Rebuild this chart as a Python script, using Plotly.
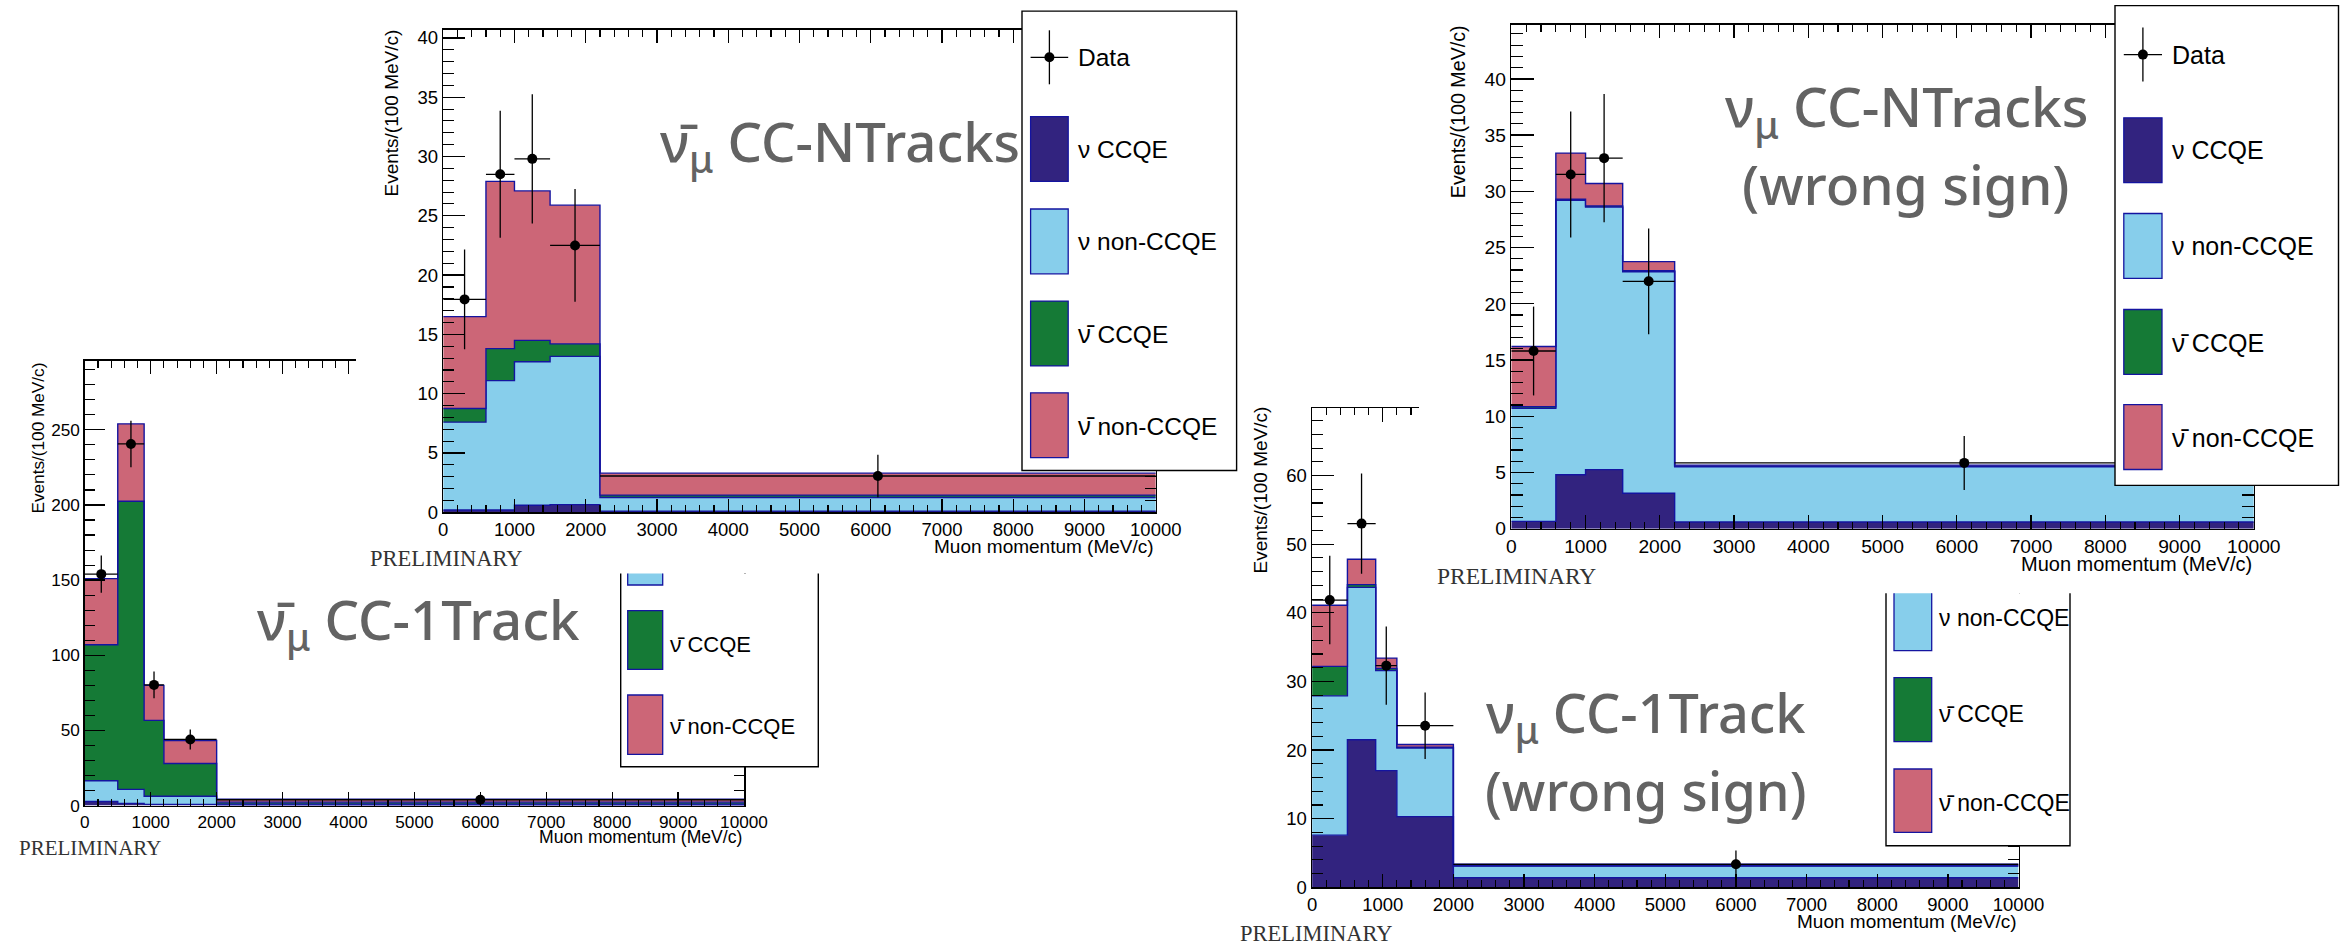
import plotly.graph_objects as go

W, H = 2342, 943

# ---------------- data ----------------
edges_1track = [0, 500, 900, 1200, 2000, 10000]
edges_ntracks = [0, 600, 1000, 1500, 2200, 10000]
x_tick_vals = [0, 1000, 2000, 3000, 4000, 5000, 6000, 7000, 8000, 9000, 10000]
x_tick_text = ["0", "1000", "2000", "3000", "4000", "5000", "6000", "7000", "8000", "9000", "10000"]

# anti-nu_mu CC-1Track
p1_nu_ccqe = [2.7, 1.5, 0.8, 0.8, 0.4]
p1_nu_non = [13.8, 9.3, 5.4, 5.4, 0.6]
p1_nubar_ccqe = [90.5, 191.7, 50.5, 21.8, 1.3]
p1_nubar_non = [44.0, 51.5, 23.3, 15.3, 2.0]
p1_data = [154.0, 240.6, 80.3, 44.0, 3.9]
p1_err = [12.4, 15.5, 8.9, 6.6, 2.0]

# anti-nu_mu CC-NTracks
p2_nu_ccqe = [0.2, 0.2, 0.6, 0.65, 0.1]
p2_nu_non = [7.4, 10.9, 12.1, 12.5, 1.15]
p2_nubar_ccqe = [1.15, 2.7, 1.8, 1.05, 0.2]
p2_nubar_non = [7.75, 14.1, 12.6, 11.7, 1.85]
p2_data = [17.95, 28.5, 29.8, 22.5, 3.06]
p2_err = [4.2, 5.35, 5.45, 4.75, 1.8]

# nu_mu CC-NTracks (wrong sign)
p3_nu_ccqe = [0.65, 4.8, 5.25, 3.15, 0.6]
p3_nu_non = [10.05, 24.4, 23.35, 19.7, 4.9]
p3_nubar_ccqe = [0.15, 0.1, 0.1, 0.1, 0.05]
p3_nubar_non = [5.35, 4.1, 2.0, 0.8, 0.1]
p3_data = [15.8, 31.5, 32.95, 22.0, 5.85]
p3_err = [3.95, 5.6, 5.7, 4.7, 2.4]

# nu_mu CC-1Track (wrong sign)
p4_nu_ccqe = [7.6, 21.5, 17.0, 10.3, 1.4]
p4_nu_non = [20.3, 22.2, 14.6, 10.0, 1.7]
p4_nubar_ccqe = [4.3, 0.4, 0.3, 0.1, 0.05]
p4_nubar_non = [8.9, 3.7, 1.5, 0.4, 0.2]
p4_data = [41.85, 53.0, 32.3, 23.55, 3.35]
p4_err = [6.45, 7.3, 5.7, 4.85, 2.0]

NUBAR = '<span style="font-family:Noto Sans">\u03bd\u0304</span>'
legend_labels = ["Data", "\u03bd CCQE", "\u03bd non-CCQE", NUBAR + " CCQE", NUBAR + " non-CCQE"]
titles = {
    "p1": ["\u03bd\u0304<sub>\u03bc</sub> CC-1Track"],
    "p2": ["\u03bd\u0304<sub>\u03bc</sub> CC-NTracks"],
    "p3": ["\u03bd<sub>\u03bc</sub> CC-NTracks", "(wrong sign)"],
    "p4": ["\u03bd<sub>\u03bc</sub> CC-1Track", "(wrong sign)"],
}

# ---------------- style ----------------
COLORS = ["#32237F", "#87CEEB", "#157A36", "#CC6677"]
OUTLINE = "#1414A0"
SANS = "Liberation Sans, Arial, Helvetica, sans-serif"
SERIF = "Liberation Serif, Times New Roman, serif"
TITLEFONT = "Noto Sans, Open Sans, sans-serif"
GREY = "#636363"


def px(x):
    return x / W


def py(y):
    return 1 - y / H


fig = go.Figure()
shapes = []
annos = []


def add_panel(xa, ya, edges, comps, data, err):
    cum = [0.0] * len(data)
    for k, comp in enumerate(comps):
        cum = [c + v for c, v in zip(cum, comp)]
        fig.add_trace(go.Scatter(
            x=edges, y=cum + [cum[-1]], mode="lines",
            line=dict(shape="hv", color=OUTLINE, width=1.4),
            fill="tozeroy" if k == 0 else "tonexty", fillcolor=COLORS[k],
            xaxis=xa, yaxis=ya, showlegend=False, hoverinfo="skip"))
    centers = [(a + b) / 2 for a, b in zip(edges[:-1], edges[1:])]
    halfw = [(b - a) / 2 for a, b in zip(edges[:-1], edges[1:])]
    fig.add_trace(go.Scatter(
        x=centers, y=data, mode="markers",
        marker=dict(color="black", size=10),
        error_x=dict(type="data", array=halfw, width=0, thickness=1.3, color="black"),
        error_y=dict(type="data", array=err, width=0, thickness=1.3, color="black"),
        xaxis=xa, yaxis=ya, showlegend=False, hoverinfo="skip"))


def add_cover(xa, ya):
    fig.add_trace(go.Scatter(x=[None], y=[None], xaxis=xa, yaxis=ya,
                             showlegend=False, hoverinfo="skip"))


def frame_axes(box, ymax, ydtick, yminor, ylen, s):
    x0, x1, y0, y1 = box
    tf = dict(family=SANS, size=18.5 * s, color="black")
    xa = dict(domain=[px(x0), px(x1)], range=[0, 10000], automargin=False,
              tickmode="array", tickvals=x_tick_vals, ticktext=x_tick_text,
              showline=True, linecolor="black", linewidth=1.5, mirror="ticks",
              ticks="inside", ticklen=13.5, tickwidth=1.3, tickcolor="black",
              minor=dict(ticks="inside", ticklen=7, dtick=200, tick0=0, tickwidth=1.1,
                         tickcolor="black", showgrid=False),
              showgrid=False, zeroline=False, tickfont=tf, fixedrange=True)
    yax = dict(domain=[py(y1), py(y0)], range=[0, ymax], dtick=ydtick, tick0=0,
               automargin=False,
               showline=True, linecolor="black", linewidth=1.5, mirror="ticks",
               ticks="inside", ticklen=ylen, tickwidth=1.3, tickcolor="black",
               minor=dict(ticks="inside", ticklen=ylen / 2, dtick=yminor, tick0=0,
                          tickwidth=1.1, tickcolor="black", showgrid=False),
               showgrid=False, zeroline=False, tickfont=tf, fixedrange=True)
    return xa, yax


def cover_axes(box):
    x0, x1, y0, y1 = box
    return (dict(domain=[px(x0), px(x1)], visible=False, range=[0, 1], fixedrange=True, automargin=False),
            dict(domain=[py(y1), py(y0)], visible=False, range=[0, 1], fixedrange=True, automargin=False))


def text(x, y, t, size, family=SANS, color="black", xanchor="left", angle=0, weight=None):
    f = dict(family=family, size=size, color=color)
    if weight:
        f["weight"] = weight
    annos.append(dict(x=px(x), y=py(y), xref="paper", yref="paper", text=t,
                      showarrow=False, xanchor=xanchor, yanchor="middle",
                      textangle=angle, font=f))


def rect(x0, y0, x1, y1, fill, line, lw=1.3):
    shapes.append(dict(type="rect", xref="paper", yref="paper",
                       x0=px(x0), x1=px(x1), y0=py(y1), y1=py(y0),
                       fillcolor=fill, line=dict(color=line, width=lw)))


def line(x0, y0, x1, y1, color="black", lw=1.3):
    shapes.append(dict(type="line", xref="paper", yref="paper",
                       x0=px(x0), x1=px(x1), y0=py(y0), y1=py(y1),
                       line=dict(color=color, width=lw)))


def open_top_path(x0, y0, x1, y1, color, lw, fill="rgba(0,0,0,0)"):
    p = "M%f,%f L%f,%f L%f,%f L%f,%f" % (px(x0), py(y0), px(x0), py(y1), px(x1), py(y1), px(x1), py(y0))
    shapes.append(dict(type="path", xref="paper", yref="paper", path=p,
                       fillcolor=fill, line=dict(color=color, width=lw)))


def full_legend(fx0, fy0, fx1, fy1, cy, boxoff, txtoff, fs):
    rect(fx0, fy0, fx1, fy1, "white", "black", 1.4)
    bx0, bx1 = fx0 + boxoff[0], fx0 + boxoff[1]
    mx = (bx0 + bx1) / 2
    line(mx, cy[0] - 27, mx, cy[0] + 27, lw=1.3)
    line(bx0, cy[0], bx1, cy[0], lw=1.3)
    shapes.append(dict(type="circle", xref="paper", yref="paper",
                       x0=px(mx - 5), x1=px(mx + 5), y0=py(cy[0] + 5), y1=py(cy[0] - 5),
                       fillcolor="black", line=dict(color="black", width=0)))
    text(fx0 + txtoff, cy[0], legend_labels[0], fs)
    for k in range(4):
        c = cy[k + 1]
        rect(bx0, c - 32.4, bx1, c + 32.4, COLORS[k], OUTLINE, 1.3)
        text(fx0 + txtoff, c, legend_labels[k + 1], fs)


# ---------------- panels (order matters for stacking) ----------------
P1 = (84.8, 744.0, 360.7, 805.6)
C2 = (356.0, 1240.0, 0.0, 573.4)
P2 = (443.2, 1155.8, 29.6, 512.3)
P4 = (1312.1, 2018.5, 408.3, 887.3)
C3 = (1419.0, 2342.0, 0.0, 593.3)
P3 = (1511.3, 2253.8, 24.9, 528.7)

add_panel("x", "y", edges_1track, [p1_nu_ccqe, p1_nu_non, p1_nubar_ccqe, p1_nubar_non], p1_data, p1_err)
add_cover("x2", "y2")
add_panel("x3", "y3", edges_ntracks, [p2_nu_ccqe, p2_nu_non, p2_nubar_ccqe, p2_nubar_non], p2_data, p2_err)
add_panel("x4", "y4", edges_1track, [p4_nu_ccqe, p4_nu_non, p4_nubar_ccqe, p4_nubar_non], p4_data, p4_err)
add_cover("x5", "y5")
add_panel("x6", "y6", edges_ntracks, [p3_nu_ccqe, p3_nu_non, p3_nubar_ccqe, p3_nubar_non], p3_data, p3_err)

s1, s2, s3, s4 = 0.93, 1.0, 1.04, 1.0
ax = {}
ax["xaxis"], ax["yaxis"] = frame_axes(P1, 296, 50, 10, 20, s1)
ax["xaxis2"], ax["yaxis2"] = cover_axes(C2)
ax["xaxis3"], ax["yaxis3"] = frame_axes(P2, 40.7, 5, 1, 21.5, s2)
ax["xaxis4"], ax["yaxis4"] = frame_axes(P4, 69.8, 10, 2, 21.5, s4)
ax["xaxis5"], ax["yaxis5"] = cover_axes(C3)
ax["xaxis6"], ax["yaxis6"] = frame_axes(P3, 44.8, 5, 1, 23, s3)
for n in ["", "2", "3", "4", "5", "6"]:
    ax["xaxis" + n]["anchor"] = "y" + n
    ax["yaxis" + n]["anchor"] = "x" + n

# ---------------- texts ----------------
ytitle = "Events/(100 MeV/c)"
xtitle = "Muon momentum (MeV/c)"
TW = 500
# panel 1
text(37.5, 438, ytitle, 17.2, angle=-90, xanchor="center")
text(P1[1], 837, xtitle, 17.6, xanchor="right")
text(17, 848, "PRELIMINARY", 21, family=SERIF, color="#333333")
text(418, 622, titles["p1"][0], 54.5, family=TITLEFONT, color=GREY, xanchor="center", weight=TW)
# panel 1 partial legend (top hidden under panel 2)
open_top_path(620.7, 573.4, 818.3, 766.7, "black", 1.4, fill="white")
shapes.append(dict(type="rect", xref="paper", yref="paper", x0=px(627.7), x1=px(662.7),
                   y0=py(585.0), y1=py(573.4), fillcolor=COLORS[1], line=dict(width=0)))
open_top_path(627.7, 573.4, 662.7, 585.0, OUTLINE, 1.3)
rect(627.7, 610.7, 662.7, 669.3, COLORS[2], OUTLINE)
rect(627.7, 695.0, 662.7, 754.3, COLORS[3], OUTLINE)
text(668.3, 643.3, legend_labels[3], 22)
text(668.3, 724.7, legend_labels[4], 22)

# panel 2
text(391, 113.5, ytitle, 19, angle=-90, xanchor="center")
text(P2[1], 546, xtitle, 19, xanchor="right")
text(368, 558, "PRELIMINARY", 22.5, family=SERIF, color="#333333")
text(840, 144, titles["p2"][0], 54.5, family=TITLEFONT, color=GREY, xanchor="center", weight=TW)
full_legend(1022.0, 11.1, 1236.6, 470.5, [57.3, 149.0, 241.4, 333.5, 425.2], (8.6, 46.2), 53.5, 24.5)

# panel 4
text(1260, 490.5, ytitle, 19, angle=-90, xanchor="center")
text(P4[1], 921, xtitle, 19, xanchor="right")
text(1238, 933, "PRELIMINARY", 22.5, family=SERIF, color="#333333")
text(1646, 714.5, titles["p4"][0], 54, family=TITLEFONT, color=GREY, xanchor="center", weight=TW)
text(1646, 790, titles["p4"][1], 54, family=TITLEFONT, color=GREY, xanchor="center", weight=TW)
open_top_path(1886.0, 593.3, 2070.0, 845.7, "black", 1.4, fill="white")
shapes.append(dict(type="rect", xref="paper", yref="paper", x0=px(1894.0), x1=px(1931.7),
                   y0=py(650.7), y1=py(593.3), fillcolor=COLORS[1], line=dict(width=0)))
open_top_path(1894.0, 593.3, 1931.7, 650.7, OUTLINE, 1.3)
rect(1894.0, 677.7, 1931.7, 741.7, COLORS[2], OUTLINE)
rect(1894.0, 769.0, 1931.7, 832.3, COLORS[3], OUTLINE)
text(1936.7, 618.3, legend_labels[2], 23)
text(1936.7, 713.3, legend_labels[3], 23)
text(1936.7, 801.7, legend_labels[4], 23)

# panel 3
text(1457.5, 111.7, ytitle, 19.7, angle=-90, xanchor="center")
text(P3[1], 563.5, xtitle, 20, xanchor="right")
text(1435, 575.7, "PRELIMINARY", 23.5, family=SERIF, color="#333333")
text(1906, 109, titles["p3"][0], 55, family=TITLEFONT, color=GREY, xanchor="center", weight=TW)
text(1906, 184, titles["p3"][1], 55, family=TITLEFONT, color=GREY, xanchor="center", weight=TW)
full_legend(2115.0, 5.6, 2338.5, 485.4, [54.6, 150.2, 245.9, 341.9, 437.1], (8.8, 47.0), 54.7, 25)

fig.update_layout(
    template="none", autosize=False,
    width=W, height=H, margin=dict(l=0, r=0, t=0, b=0, pad=0, autoexpand=False),
    paper_bgcolor="white", plot_bgcolor="white", showlegend=False,
    shapes=shapes, annotations=annos, **ax)

fig.write_html("out.html", config={"displayModeBar": False, "staticPlot": True},
               post_script="document.body.style.margin='0';document.body.style.overflow='hidden';")
